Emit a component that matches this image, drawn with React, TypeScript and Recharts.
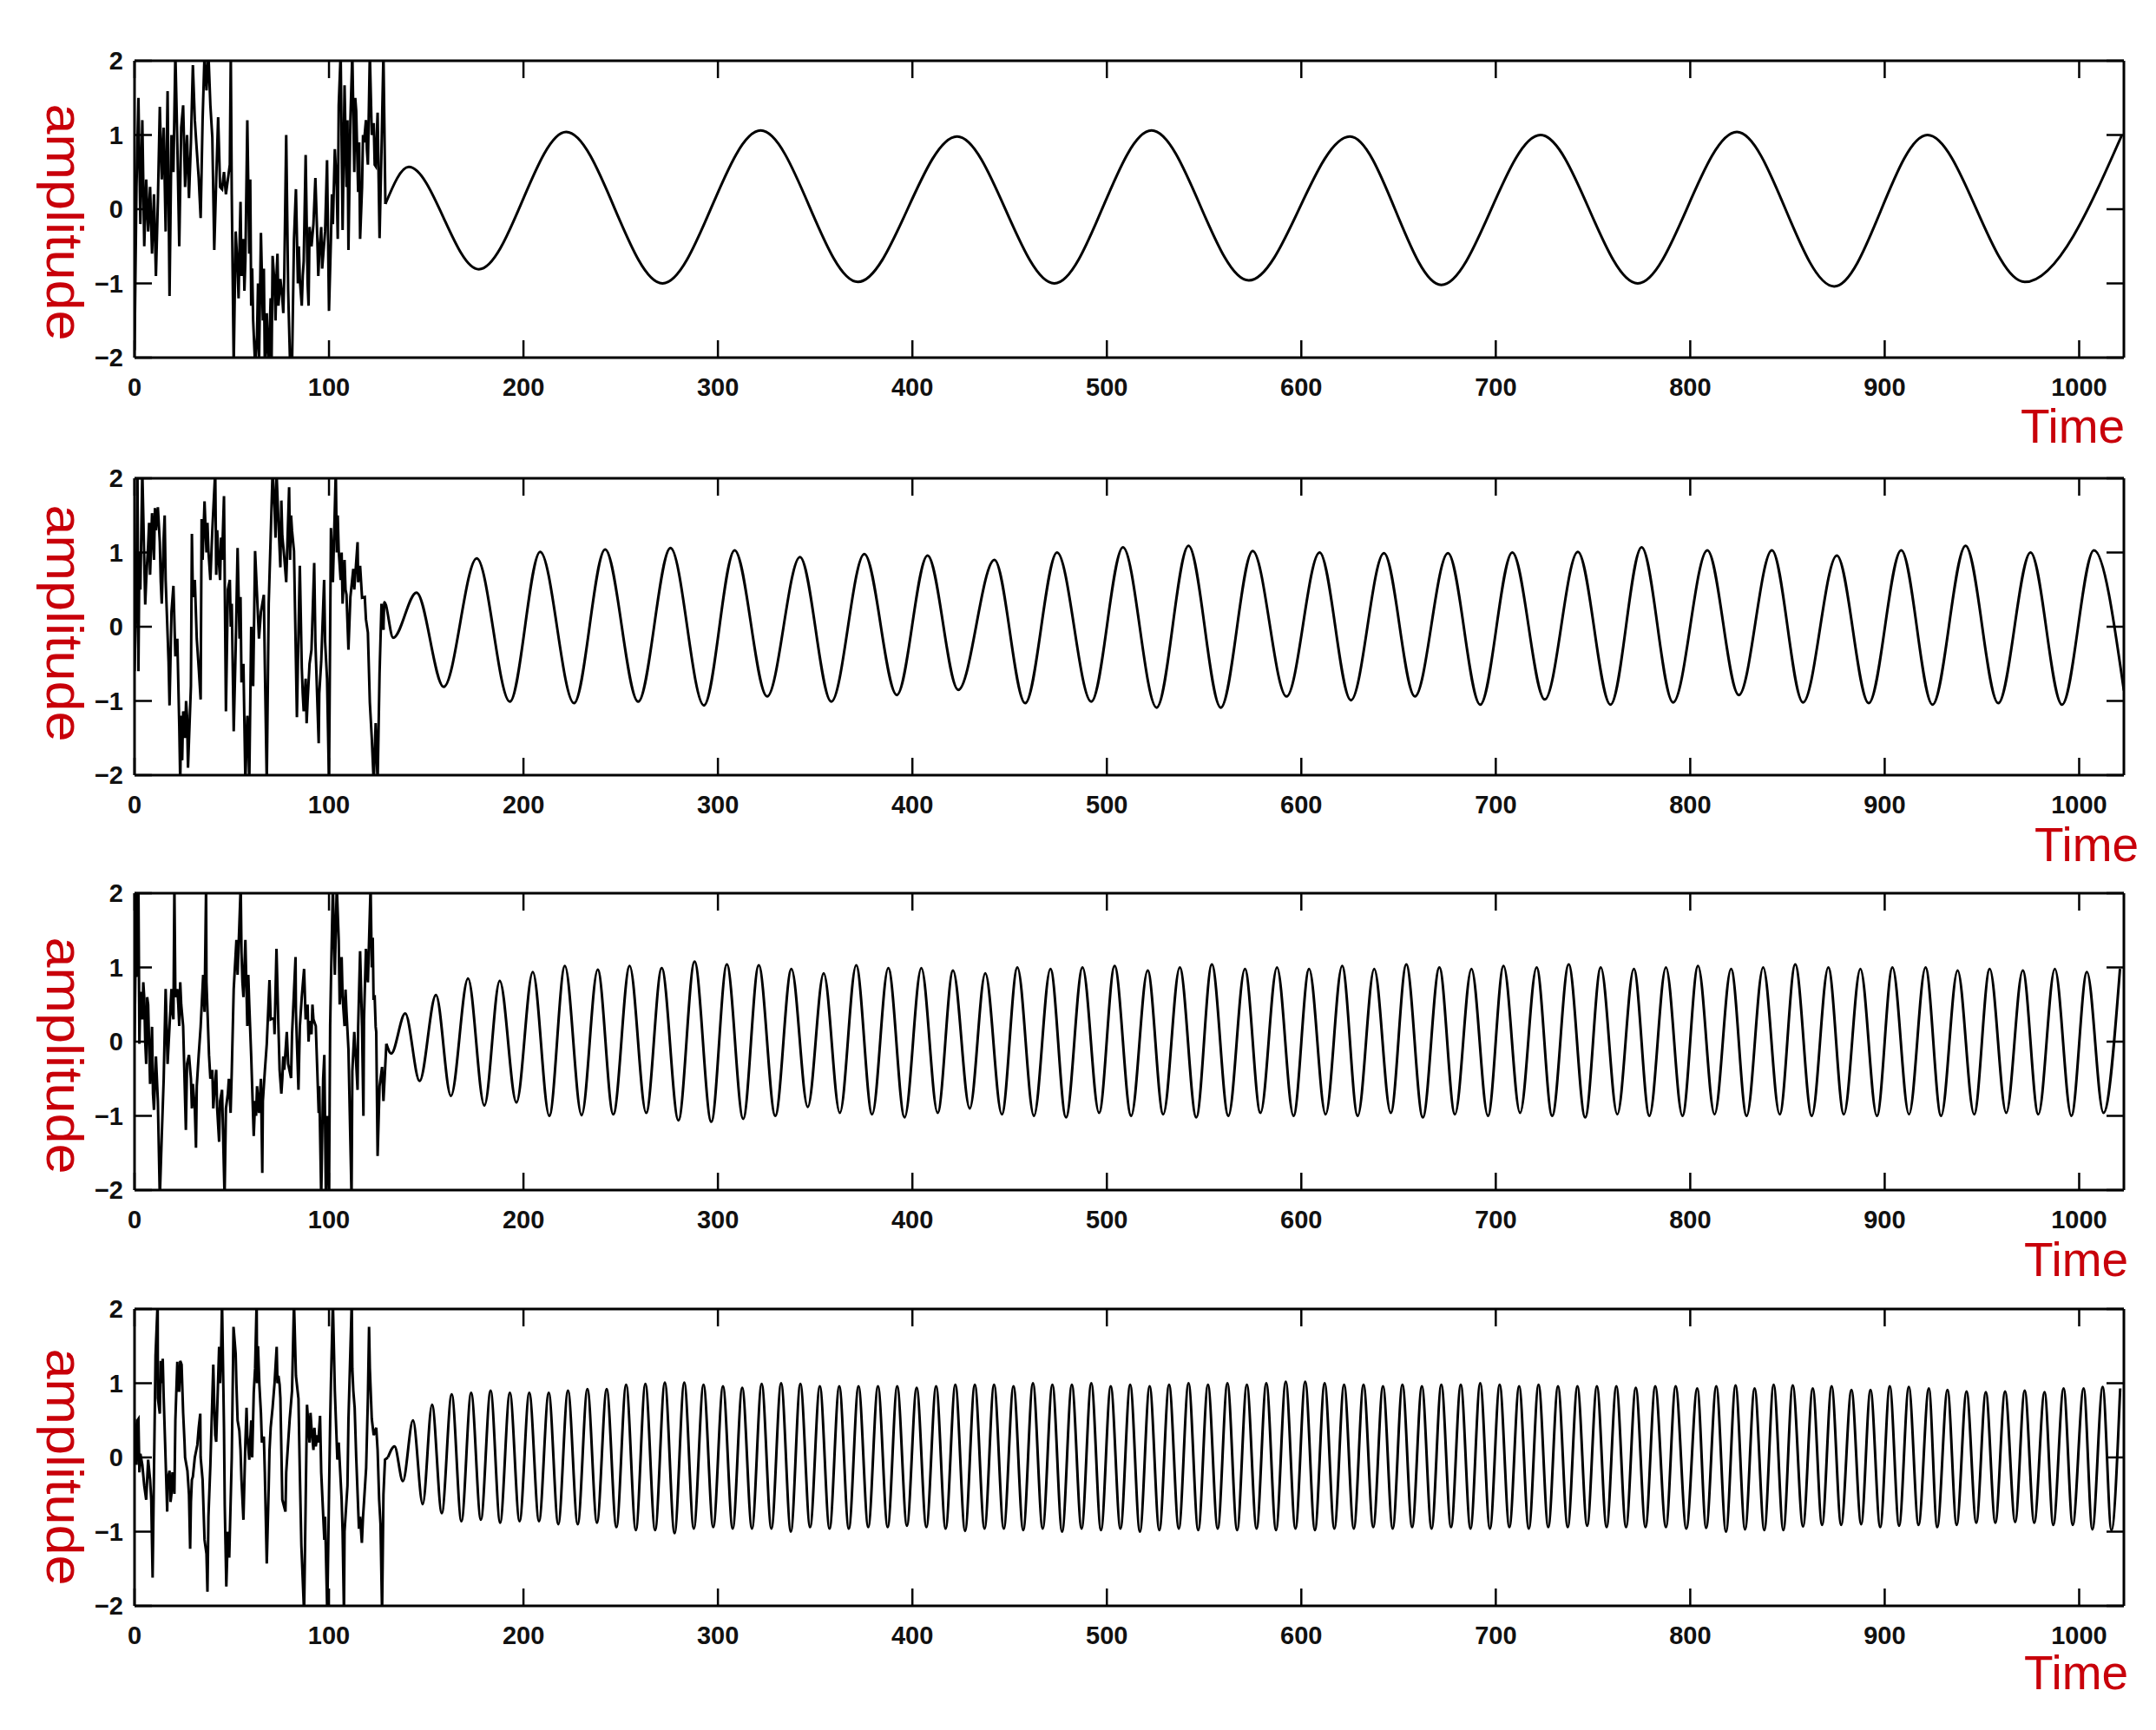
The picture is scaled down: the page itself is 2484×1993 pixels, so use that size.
import React from 'react'
import { LineChart, Line, XAxis, YAxis, Label } from 'recharts'

const xTicks = [0, 100, 200, 300, 400, 500, 600, 700, 800, 900, 1000]
const yTicks = [-2, -1, 0, 1, 2]

// panel 1: noisy start, then slow wave (period ~100)
const noise1: [number, number][] = [
  [0, -1.9], [1, 0.3], [2, 1.5], [3, -0.2], [4, 1.2], [5, -0.5], [6, 0.4], [7, -0.3], [8, 0.3], [9, -0.6],
  [10, 0.2], [11, -0.9], [12, 0.1], [13, 1.38], [14, 0.4], [15, 1.1], [16, -0.3], [17, 1.59], [17.5, 0.2], [18, -1.17],
  [19, 1.0], [20, 0.5], [21, 2.1], [22, 0.9], [23, -0.5], [24, 1.1], [25, 1.4], [26, 0.3], [27, 1.0], [28, 0.15],
  [29, 0.9], [30, 1.94], [31, 1.2], [32, 0.8], [33, 0.42], [34, -0.12], [35, 1.2], [36, 2.1], [37, 1.6], [38, 2.1],
  [39, 1.4], [40, 0.97], [41, -0.55], [42, 0.4], [43, 1.24], [44, 0.3], [45, 0.27], [46, 0.5], [47, 0.2], [48, 0.4],
  [49, 0.6], [49.5, 2.1], [50, 0.2], [51, -2.1], [52, -0.3], [53, -0.8], [54, -0.5], [55, -0.9], [56, -0.4], [57, -0.7],
  [58, 1.2], [59, -0.6], [60, -1.3], [61, -1.5], [62, -2.1], [63, -1.7], [64, -2.1], [65, -0.32], [66, -1.5], [67, -2.1],
  [68, -1.4], [69, -2.1], [70, -1.2], [71, -0.63], [72, -1.0], [73, -0.9], [74, -1.3], [75, -0.94], [76, -1.2], [77, -0.9],
  [78, 1.0], [79, -1.1], [80, -2.1], [81, -2.1], [82, -0.4], [83, 0.27], [84, -1.0], [85, -0.94], [86, -1.3], [87, -0.7],
  [88, 0.73], [89, -1.0], [90, -0.24], [91, -0.5], [92, -0.2], [93, 0.42], [94, -0.4], [95, -0.6], [96, -0.24], [97, -0.63],
  [98, -0.3], [99, 0.66], [100, -1.37], [101, -0.4], [102, -0.2], [103, 0.81], [104, 0.3], [105, 1.4], [106, 2.1], [107, -0.28],
  [108, 1.67], [109, 0.3], [110, -0.55], [111, 1.2], [112, 2.1], [113, 0.5], [114, 1.32], [115, 0.23], [116, -0.4], [117, 0.3],
  [118, 0.9], [119, 1.2], [120, 0.6], [121, 2.1], [122, 1.0], [123, 1.16], [124, 0.58], [125, 1.3], [126, -0.39], [127, 0.8],
  [128, 2.1], [129, 0.07],
  // in-between samples of the dense parts
  [53.5, -1.2], [54.5, 0.1], [56.5, -1.1], [59.5, 0.4], [60.5, -0.8], [63.5, -1.0], [66.5, -0.8], [68.5, -1.9],
  [70.5, -2.0], [72.5, -1.5], [73.5, -0.6], [76.5, -1.4], [84.5, -0.5], [86.5, -0.9], [89.5, -1.3], [94.5, -0.9],
  [96.5, -0.8], [101.5, 0.2], [104.5, -0.4], [109.5, 1.2], [113.5, 1.5], [115.5, 0.9], [117.5, 1.0], [119.5, 0.8],
  [123.5, 0.6],
]
const wave1: [number, number][] = [
  [129, 0.07], [141, 0.57], [177, -0.81], [222, 1.04], [271.5, -1.0], [322, 1.06], [372, -0.98], [423, 0.98],
  [473, -1.0], [523, 1.06], [573, -0.96], [625, 0.98], [672, -1.02], [723, 1.0], [773, -1.0], [824, 1.04],
  [874, -1.04], [922, 1.0], [972, -0.98], [1022, 1.0],
]

// panel 2: period ~33
const noise2: [number, number][] = [
  [0, -0.6], [1, 0.6], [1.5, 2.1], [2, -0.6], [3, 0.5], [4, 2.1], [5, 0.9], [6, 0.63], [7, 1.1], [8, 0.7],
  [9, 1.53], [10, 0.9], [11, 1.3], [12, 1.61], [13, 1.14], [14, 0.31], [15, 1.2], [16, 0.63], [17, -0.1], [17.5, -0.47],
  [18, -1.06], [19, 0.2], [20, 0.55], [21, -0.4], [22, -0.16], [23, -1.33], [23.5, -2.1], [24, -1.2], [25, -1.14], [26, -1.5],
  [27, -1.2], [28, -1.53], [29, -0.8], [29.5, 1.25], [30, 0.4], [31, 0.63], [32, -0.16], [33, -0.55], [34, -0.98], [34.5, 1.45],
  [35, 0.9], [36, 1.69], [37, 1.0], [38, 1.02], [39, 0.63], [40, 1.3], [41.5, 2.1], [42, 0.7], [43, 1.02], [44, 0.63],
  [45, 0.9], [46, 1.76], [47, -1.14], [48, 0.5], [49, 0.63], [50, 0.31], [51, -1.41], [52, -0.3], [53, 1.06], [54, -0.16],
  [55, -0.75], [56, -0.5], [57, -2.1], [58, -1.2], [59, -2.1], [60, 0.0], [61, -0.8], [62, 1.02], [63, 0.43], [64, -0.16],
  [65, 0.2], [66.5, 0.43], [67, -0.5], [68, -2.1], [69, 0.31], [70, 1.2], [71, 2.1], [72, 1.6], [73, 2.1], [74, 1.41],
  [75, 0.8], [76, 1.22], [77, 0.94], [78, 0.6], [79.5, 1.88], [80, 0.9], [81, 1.29], [82, 1.02], [83.5, -1.22], [84, -0.5],
  [85, 0.82], [86, -0.55], [87, -1.14], [88, -0.7], [89, -1.0], [90, -0.5], [91, -0.31], [92.4, 0.86], [93, -0.2], [94.7, -1.57],
  [95, -0.9], [96, -0.47], [97.5, 0.63], [98, -0.2], [99, -0.7], [100, -2.1], [101, 1.33], [102, 0.6], [103.5, 2.1], [104, 1.0],
  [105, 1.02], [106, 0.63], [107, 0.31], [108, 0.9], [109, 0.43], [110, -0.31], [111, 0.4], [112.5, 0.78], [113, 0.5], [114.7, 1.14],
  [115, 0.6], [116, 0.82], [117, 0.39], [118.4, 0.4], [119, 0.1], [120, -0.08], [121, -1.02], [122, -1.5], [123, -2.1], [124, -1.3],
  [125, -2.1], [126, -0.63], [127, 0.31], [128, -0.04],
  [2.5, 1.0], [5.5, 0.3], [7.5, 1.4], [10.5, 1.6], [13.5, 0.6], [15.5, 1.5], [24.5, -1.8], [26.5, -1.0],
  [27.5, -1.9], [37.5, 1.4], [42.5, 1.3], [44.5, 1.2], [49.5, 0.0], [54.5, 0.4], [58.5, -1.5], [72.5, 1.2],
  [75.5, 1.7], [80.5, 1.5], [86.5, -0.9], [88.5, -1.3], [104.5, 1.5], [106.5, 1.0], [108.5, 0.5], [124.5, -1.7],
]
const wave2: [number, number][] = [
  [128, -0.04], [128.5, 0.33], [133, -0.15], [145, 0.46], [159, -0.81], [176, 0.92], [193, -1.01], [208.6, 1.01],
  [226, -1.03], [242, 1.04], [259, -1.01], [275.6, 1.06], [292.8, -1.06], [308.6, 1.03], [325.3, -0.94], [342.2, 0.94],
  [358.3, -1.01], [375.3, 0.98], [392, -0.92], [407.8, 0.96], [423.6, -0.85], [442.2, 0.9], [458, -1.03], [474.4, 1.0],
  [492, -1.01], [508.3, 1.07], [525.6, -1.09], [542, 1.09], [558.6, -1.09], [575, 1.02], [592.4, -0.94], [609.4, 1.0],
  [625.5, -0.99], [642.5, 0.99], [658.4, -0.94], [675.4, 0.99], [692, -1.05], [708.5, 1.0], [725.2, -0.98], [742.2, 1.01],
  [759, -1.05], [775, 1.07], [791.2, -1.02], [808.8, 1.03], [825, -0.92], [842, 1.03], [858, -1.02], [875.4, 0.96],
  [891.8, -1.03], [908.5, 1.03], [924.6, -1.05], [941.6, 1.09], [958.4, -1.03], [975, 1.0], [991.2, -1.05], [1007.6, 1.03],
  [1023, -0.86],
]

// panel 3: period ~16.6
const noise3: [number, number][] = [
  [0, 0.0], [1, 2.1], [1.5, 0.87], [2, 2.1], [2.5, -0.03], [3, 0.67], [4, 0.3], [5, 0.59], [6, -0.3], [7, 0.5],
  [8, -0.57], [9, 0.2], [10, -0.92], [11, -0.2], [12, -0.8], [13, -2.1], [14, -1.27], [15, -0.5], [16, 0.71], [17, -0.3],
  [18, 0.21], [19, 0.71], [20, 0.3], [20.5, 2.1], [21, 0.6], [22, 0.71], [23, 0.21], [24, 0.5], [25, 0.21], [26.4, -1.19],
  [27, -0.3], [28, -0.18], [29, -0.5], [30, -0.57], [31, -0.9], [31.6, -1.43], [32, -0.6], [33, -0.18], [34, 0.2], [35.3, 0.9],
  [36, 0.4], [36.8, 2.1], [37, 0.8], [38.3, -0.18], [39, -0.5], [40, -0.38], [41, -0.7], [42, -0.38], [43.5, -1.35], [44, -0.8],
  [45, -0.65], [46.3, -2.1], [47, -0.9], [48, -0.7], [49.4, -0.96], [50, -0.4], [51, 0.71], [52.4, 1.37], [53, 0.9], [54.6, 2.1],
  [55, 1.2], [56, 0.6], [57, 1.37], [58, 0.21], [59, 0.5], [60, -0.2], [61.3, -1.27], [62, -0.8], [63, -0.6], [64, -0.96],
  [65, -0.5], [65.7, -1.77], [66, -0.8], [67, -0.4], [68, -0.03], [69.4, 0.83], [70, 0.3], [71.7, 0.32], [72, 0.1], [73, 1.25],
  [74, 0.2], [74.6, -0.38], [76, -0.5], [77, -0.38], [78.3, 0.13], [79, -0.3], [80.5, -0.49], [81, 0.1], [82.8, 1.14], [83, 0.4],
  [84.3, -0.65], [85, 0.2], [87.2, 0.98], [88, 0.3], [89, 0.5], [90, 0.28], [91, 0.1], [92, 0.3], [93.2, 0.21], [94, -0.4],
  [94.7, -0.96], [95, -0.6], [96, -2.1], [97, -0.5], [97.6, -0.18], [98.4, -2.1], [99, -1.0], [100, -2.1], [100.6, 0.21], [101, 0.8],
  [102, 2.1], [103, 0.9], [104, 2.1], [105, 1.37], [106.5, 1.14], [107, 0.6], [108, 0.21], [109, 0.4], [110, -0.1], [111.6, -2.1],
  [112, -0.4], [113, 0.13], [114, -0.3], [114.7, -0.65], [115, 0.2], [116, 1.22], [117, 0.2], [117.7, -1.0], [118, 0.3], [119, 1.25],
  [120, 0.8], [121.4, 2.1], [122, 1.0], [122.9, 0.59], [124, 0.2], [124.3, 0.13], [125, -1.54], [126, -0.6], [127.3, -0.34], [128, -0.8],
  [129.5, -0.03],
  [4.5, 0.8], [5.5, 0.0], [6.5, 0.6], [9.5, -0.7], [19.5, 0.4], [22.5, 0.5], [23.5, 0.8], [29.5, -0.9],
  [40.5, -0.9], [42.5, -0.9], [48.5, -0.5], [55.5, 0.8], [58.5, 0.9], [62.5, -1.0], [63.5, -0.8], [75.5, -0.7],
  [76.5, -0.2], [86, 0.6], [89.5, 0.0], [91.5, 0.5], [105.5, 0.5], [108.5, 0.7], [122.5, 1.4], [123.5, 0.6],
]
const wave3: [number, number][] = [
  [129.5, -0.03], [132, -0.16], [139.2, 0.38], [146.6, -0.53], [155, 0.63], [162.7, -0.73], [171.5, 0.85], [179.9, -0.86],
  [187.8, 0.82], [196.4, -0.82], [204.8, 0.94], [213.3, -1.0], [221.3, 1.02], [229.9, -0.99], [238.2, 0.97], [246.2, -0.98],
  [254.6, 1.02], [263.1, -0.96], [271.1, 0.99], [279.7, -1.06], [288, 1.08], [296.6, -1.08], [304.6, 1.04], [313, -1.04],
  [321, 1.03], [329.5, -1.0], [337.8, 0.98], [346.2, -0.88], [354.4, 0.92], [362.7, -0.96], [371.1, 1.03], [379.3, -0.98],
  [387.6, 0.99], [396, -1.02], [404.6, 0.99], [413, -0.96], [420.9, 0.96], [429.5, -0.9], [437.5, 0.92], [446, -0.98],
  [454, 1.0], [462.5, -1.0], [471, 0.98], [479, -1.02], [487.5, 1.0], [496, -0.96], [504, 1.02], [512.5, -1.0],
  [521, 0.96], [529, -0.98], [537.5, 1.0], [546, -1.02], [554, 1.04], [562.5, -1.0], [571, 0.98], [579, -0.96],
  [587.5, 1.0], [596, -1.0], [604, 0.98], [612.5, -0.98], [621, 1.02], [629, -1.0], [637.5, 0.98], [646, -0.96],
  [654, 1.04], [662.5, -1.02], [671, 1.0], [679, -0.98], [687.5, 0.98], [696, -1.0], [704, 1.02], [712.5, -0.96],
  [721, 1.0], [729, -1.0], [737.5, 1.04], [746, -1.02], [754, 1.0], [762.5, -0.98], [771, 0.98], [779, -1.0],
  [787.5, 1.0], [796, -1.0], [804, 1.02], [812.5, -0.98], [821, 0.98], [829, -1.0], [837.5, 1.0], [846, -0.98],
  [854, 1.04], [862.5, -1.0], [871, 1.0], [879, -0.98], [887.5, 0.98], [896, -1.0], [904, 1.0], [912.5, -0.98],
  [921, 1.0], [929, -1.0], [937.5, 0.96], [946, -0.98], [954, 0.98], [962.5, -0.96], [971, 0.96], [979, -0.98],
  [987.5, 0.98], [996, -1.0], [1004, 0.94], [1012.5, -0.96], [1021, 0.98],
]

// panel 4: period ~10
const noise4: [number, number][] = [
  [0, 0.52], [1, -0.1], [2, 0.52], [3, 0.05], [4, -0.1], [5, -0.38], [6, -0.57], [7, -0.03], [8, -0.3], [8.6, -0.57],
  [9.3, -1.62], [10, -0.2], [10.8, 1.37], [11.9, 2.1], [12, 0.8], [13, 0.59], [14, 1.0], [14.5, 1.33], [15, 0.8], [15.7, 0.21],
  [16.8, -0.73], [17, -0.3], [18, -0.18], [19, -0.49], [20, -0.3], [20.5, -0.49], [21, 0.5], [22, 1.29], [23, 0.9], [24.2, 1.25],
  [25, 0.6], [25.7, 0.21], [26, 0.0], [27.2, -0.18], [28, -0.5], [28.6, -1.23], [29, -0.6], [30, -0.26], [31, 0.0], [32.3, 0.17],
  [33, 0.4], [33.8, 0.59], [35, -0.3], [36, -1.11], [37, -1.3], [37.5, -1.81], [38, -0.8], [39, -0.1], [40.5, 1.25], [41, 0.7],
  [42, 0.21], [43.5, 1.49], [44, 1.0], [45, 2.1], [46, 0.4], [46.4, -0.65], [47.2, -1.74], [48, -1.0], [48.7, -1.35], [50, 0.0],
  [50.9, 1.76], [52.4, 0.98], [53, 0.5], [53.9, 0.36], [55, -0.3], [56, -0.84], [57, 0.2], [57.6, 0.67], [59, -0.03], [60, 0.5],
  [61.3, 0.87], [62, 1.2], [62.8, 2.1], [63, 1.0], [64.2, 0.98], [65, 0.6], [66.5, 0.28], [67, -0.2], [68, -1.43], [69, -0.4],
  [69.4, 0.09], [71, 0.67], [72, 1.0], [73.1, 1.49], [74, 1.1], [74.6, 0.98], [76, -0.57], [77.6, -0.73], [78, -0.2], [79.8, 0.52],
  [81, 0.9], [82, 2.1], [83, 1.1], [84.3, 0.79], [85, -0.2], [85.8, -1.19], [87.2, -2.1], [88, -0.6], [88.7, 0.71], [90, 0.2],
  [91, 0.4], [92, 0.1], [93.2, 0.15], [94, 0.3], [95.4, 0.56], [96, -0.2], [97.6, -1.11], [98, -0.8], [99.1, -2.1], [100, -0.5],
  [100.6, 0.48], [101, 1.0], [102, 2.1], [103, 0.9], [104.3, -0.03], [105, 0.2], [106.5, -0.57], [107, -1.0], [107.7, -2.1], [108, -1.0],
  [109.5, -0.38], [110, 0.5], [111.7, 2.1], [112, 1.2], [113.2, 0.67], [114, 0.0], [115.4, -0.96], [116, -0.8], [116.9, -1.15], [118, -0.6],
  [119.1, -0.14], [120, 0.8], [120.6, 1.76], [121, 1.2], [122, 0.52], [123, 0.3], [124.3, 0.4], [125, 0.1], [125.8, -0.57], [126.5, -0.9],
  [127.3, -2.1], [128, -0.5], [128.8, -0.03], [130.3, 0.0],
  [0.5, 0.2], [1.5, 0.5], [2.5, -0.2], [13.5, 1.3], [18.5, -0.6], [19.5, -0.2], [22.5, 0.9], [23.5, 1.3],
  [29.5, -0.3], [34, 0.0], [41.5, 0.3], [44.5, 1.4], [52, 1.4], [54.5, 0.1], [58, 0.3], [60.5, 0.0],
  [63.5, 1.5], [65.5, 0.2], [70, 0.4], [73.5, 1.0], [75, 0.8], [90.5, 0.6], [92.5, 0.4], [94.5, 0.2],
  [112.5, 0.9], [117.5, -0.8],
]
const wave4: [number, number][] = [
  [130.3, 0.0], [133.7, 0.15], [138, -0.32], [143.2, 0.5], [148.2, -0.63], [153, 0.71], [158, -0.75], [163.1, 0.85],
  [168.1, -0.86], [173.1, 0.87], [178.1, -0.84], [183.1, 0.9], [188, -0.88], [193, 0.87], [198, -0.86], [203, 0.87],
  [208, -0.86], [213, 0.87], [217.9, -0.9], [222.9, 0.9], [227.9, -0.9], [232.9, 0.92], [237.8, -0.88], [242.8, 0.92],
  [247.8, -0.94], [252.8, 0.98], [257.8, -0.98], [262.7, 0.99], [267.7, -0.98], [272.7, 1.01], [277.7, -1.02], [282.7, 1.01],
  [287.6, -0.96], [292.6, 0.98], [297.6, -0.94], [302.6, 0.96], [307.6, -0.96], [312.5, 0.94], [317.5, -0.96], [322.5, 0.99],
  [327.5, -0.96], [332.5, 1.0], [337.5, -1.0], [342.4, 0.99], [347.4, -0.94], [352.4, 0.96], [357.4, -0.96], [362.4, 0.96],
  [367.3, -0.96], [372.3, 0.96], [377.3, -0.94], [382.3, 0.96], [387.3, -0.94], [392.2, 0.96], [397.2, -0.92], [402.2, 0.94],
  [407.2, -0.94], [412.2, 0.96], [417.1, -0.96], [422.1, 0.98], [427.1, -0.99], [432.1, 0.98], [437.1, -0.96], [442, 0.98],
  [447, -0.96], [452, 0.96], [457, -0.98], [462, 1.0], [467, -0.96], [472, 0.98], [477, -1.0], [482, 0.98],
  [487, -0.96], [492, 1.0], [497, -0.98], [502, 0.96], [507, -0.96], [512, 0.98], [517, -1.0], [522, 0.96],
  [527, -0.98], [532, 0.98], [537, -0.96], [542, 1.0], [547, -0.98], [552, 0.98], [557, -0.96], [562, 1.0],
  [567, -0.98], [572, 0.98], [577, -0.96], [582, 1.0], [587, -0.98], [592, 1.02], [597, -0.96], [602, 1.02],
  [607, -0.98], [612, 1.0], [617, -0.96], [622, 0.98], [627, -0.96], [632, 0.98], [637, -0.94], [642, 0.96],
  [647, -0.96], [652, 0.98], [657, -0.94], [662, 0.96], [667, -0.96], [672, 0.98], [677, -0.94], [682, 0.98],
  [687, -0.96], [692, 1.0], [697, -0.96], [702, 0.98], [707, -0.94], [712, 0.96], [717, -0.96], [722, 0.98],
  [727, -0.94], [732, 0.96], [737, -0.94], [742, 0.96], [747, -0.92], [752, 0.96], [757, -0.94], [762, 0.96],
  [767, -0.94], [772, 0.94], [777, -0.94], [782, 0.96], [787.5, -0.94], [792.5, 0.96], [798, -0.96], [803.6, 0.93],
  [808.2, -0.95], [813.4, 0.96], [818.4, -1.0], [823.3, 0.97], [828.2, -0.97], [833.1, 0.93], [838.1, -0.98], [842.9, 0.98],
  [847.9, -0.98], [852.7, 0.97], [858, -0.93], [863, 0.93], [867.8, -0.91], [872.7, 0.96], [877.6, -0.91], [882.9, 0.91],
  [887.9, -0.9], [892.7, 0.91], [897.7, -0.94], [902.6, 0.96], [907.4, -0.92], [912.4, 0.95], [917.4, -0.91], [922.7, 0.93],
  [927, -0.94], [932.3, 0.91], [937, -0.91], [942.1, 0.89], [947.1, -0.88], [952, 0.88], [956.9, -0.88], [961.9, 0.89],
  [967.1, -0.87], [972, 0.9], [976.9, -0.88], [982.2, 0.88], [986.7, -0.91], [992, 0.93], [996.7, -0.91], [1002.3, 0.93],
  [1006.8, -0.97], [1012.1, 0.95], [1016.6, -0.98], [1021.1, 0.93],
]

const toPoints = (arr: [number, number][]) =>
  arr
    .slice()
    .sort((a, b) => a[0] - b[0])
    .map(([t, v]) => ({ t, v }))

const panels = [
  { noise: noise1, wave: wave1, top: 70, labelShift: 15, timeX: 2328, timeDy: 98 },
  { noise: noise2, wave: wave2, top: 551, labelShift: -4, timeX: 2344, timeDy: 99 },
  { noise: noise3, wave: wave3, top: 1029, labelShift: 16, timeX: 2332, timeDy: 99 },
  { noise: noise4, wave: wave4, top: 1508, labelShift: 11, timeX: 2332, timeDy: 96 },
]

const FONT = '"Liberation Sans", Arial, Helvetica, sans-serif'
const RED = '#c8000a'
const TICK_LEN = 20

const fmt = (v: number) => (v < 0 ? `\u2212${Math.abs(v)}` : `${v}`)

const BottomTick = (props: any) => {
  const { x, y, payload } = props
  return (
    <g>
      <line x1={x} y1={y} x2={x} y2={y - TICK_LEN} stroke="#000" strokeWidth={2.5} />
      <text x={x} y={y + 34} textAnchor="middle" dominantBaseline="central" fontSize={29} fontWeight="bold" fontFamily={FONT} fill="#111">
        {payload.value}
      </text>
    </g>
  )
}

const TopTick = (props: any) => {
  const { x, y } = props
  return <line x1={x} y1={y} x2={x} y2={y + TICK_LEN} stroke="#000" strokeWidth={2.5} />
}

const LeftTick = (props: any) => {
  const { x, y, payload } = props
  return (
    <g>
      <line x1={x} y1={y} x2={x + TICK_LEN} y2={y} stroke="#000" strokeWidth={2.5} />
      <text x={x - 13} y={y} textAnchor="end" dominantBaseline="central" fontSize={29} fontWeight="bold" fontFamily={FONT} fill="#111">
        {fmt(payload.value)}
      </text>
    </g>
  )
}

const RightTick = (props: any) => {
  const { x, y } = props
  return <line x1={x} y1={y} x2={x - TICK_LEN} y2={y} stroke="#000" strokeWidth={2.5} />
}

const amplitudeLabel = (shift: number) => (props: any) => {
  const vb = props.viewBox
  const cx = vb.x - 41
  const cy = vb.y + vb.height / 2 + shift
  return (
    <text
      x={cx}
      y={cy}
      transform={`rotate(90 ${cx} ${cy})`}
      textAnchor="middle"
      fontSize={60}
      fontFamily={FONT}
      fill={RED}
      textLength={273}
      lengthAdjust="spacingAndGlyphs"
    >
      amplitude
    </text>
  )
}

const timeLabel = (x: number, dy: number) => (props: any) => {
  const vb = props.viewBox
  return (
    <text x={x} y={vb.y + dy} fontSize={55} fontFamily={FONT} fill={RED}>
      Time
    </text>
  )
}

const axisLine = { stroke: '#000', strokeWidth: 3 }

function Panel({ p }: { p: (typeof panels)[number] }) {
  const wavePts = toPoints(p.wave)
  return (
    <div style={{ position: 'absolute', left: 0, top: p.top - 20 }}>
      {/* top axis is 1px high and right axis 1px wide: zero-size axes are not drawn */}
      <LineChart width={2484} height={480} margin={{ top: 19, right: 36, bottom: 78, left: 95 }}>
        <XAxis
          dataKey="t"
          type="number"
          domain={[0, 1023]}
          ticks={xTicks}
          interval={0}
          allowDataOverflow
          height={40}
          tickSize={0}
          tickMargin={0}
          tickLine={false}
          axisLine={axisLine}
          tick={<BottomTick />}
        >
          <Label content={timeLabel(p.timeX, p.timeDy)} />
        </XAxis>
        <XAxis
          xAxisId="top"
          orientation="top"
          dataKey="t"
          type="number"
          domain={[0, 1023]}
          ticks={xTicks}
          interval={0}
          allowDataOverflow
          height={1}
          tickSize={0}
          tickMargin={0}
          tickLine={false}
          axisLine={axisLine}
          tick={<TopTick />}
        />
        <YAxis
          type="number"
          domain={[-2, 2]}
          ticks={yTicks}
          interval={0}
          allowDataOverflow
          width={60}
          tickSize={0}
          tickMargin={0}
          tickLine={false}
          axisLine={axisLine}
          tick={<LeftTick />}
        >
          <Label content={amplitudeLabel(p.labelShift)} />
        </YAxis>
        <YAxis
          yAxisId="right"
          orientation="right"
          type="number"
          domain={[-2, 2]}
          ticks={yTicks}
          interval={0}
          allowDataOverflow
          width={1}
          tickSize={0}
          tickMargin={0}
          tickLine={false}
          axisLine={axisLine}
          tick={<RightTick />}
        />
        <Line
          xAxisId="top"
          yAxisId="right"
          data={wavePts}
          dataKey="v"
          stroke="none"
          dot={false}
          activeDot={false}
          isAnimationActive={false}
        />
        <Line
          data={toPoints(p.noise)}
          dataKey="v"
          type="linear"
          stroke="#000"
          strokeWidth={3}
          dot={false}
          isAnimationActive={false}
        />
        <Line
          data={wavePts}
          dataKey="v"
          type="monotone"
          stroke="#000"
          strokeWidth={3}
          dot={false}
          isAnimationActive={false}
        />
      </LineChart>
    </div>
  )
}

export default function App() {
  return (
    <div style={{ position: 'absolute', left: 0, top: 0, width: 2484, height: 1993, background: '#fff', overflow: 'hidden' }}>
      {panels.map((p, i) => (
        <Panel key={i} p={p} />
      ))}
    </div>
  )
}
